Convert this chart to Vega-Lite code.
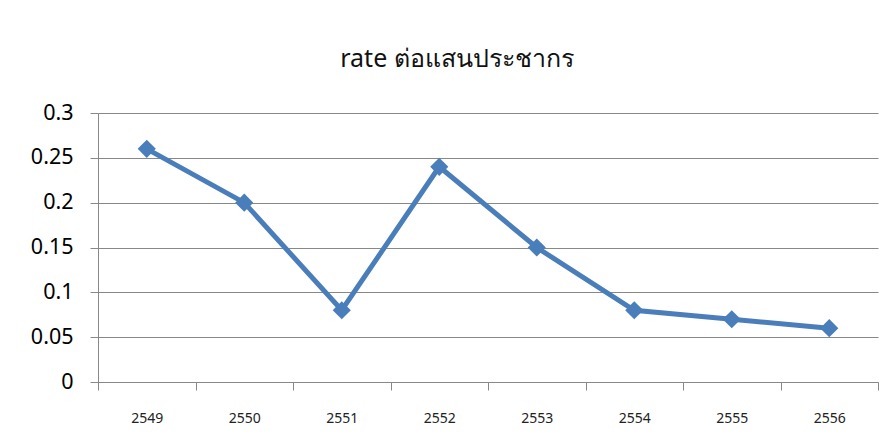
{
  "$schema": "https://vega.github.io/schema/vega-lite/v6.json",
  "autosize": "none",
  "width": 780,
  "height": 269,
  "padding": {"left": 98, "top": 113, "right": 17, "bottom": 65},
  "background": "white",
  "config": {"view": {"stroke": null}, "font": "Noto Sans"},
  "title": {
    "text": "rate ต่อแสนประชากร",
    "fontSize": 25,
    "fontWeight": "normal",
    "color": "#111111",
    "anchor": "middle",
    "dx": -31,
    "offset": 30,
    "font": "Noto Sans"
  },
  "data": {
    "values": [
      {"year": "2549", "rate": 0.26},
      {"year": "2550", "rate": 0.20},
      {"year": "2551", "rate": 0.08},
      {"year": "2552", "rate": 0.24},
      {"year": "2553", "rate": 0.15},
      {"year": "2554", "rate": 0.08},
      {"year": "2555", "rate": 0.07},
      {"year": "2556", "rate": 0.06}
    ]
  },
  "encoding": {
    "x": {
      "field": "year",
      "type": "ordinal",
      "scale": {"paddingInner": 0, "paddingOuter": 0},
      "axis": {
        "title": null,
        "labelAngle": 0,
        "labelFontSize": 14,
        "labelColor": "#222222",
        "labelPadding": 21,
        "tickBand": "extent",
        "tickSize": 8,
        "tickColor": "#888888",
        "domainColor": "#888888",
        "grid": false
      }
    },
    "y": {
      "field": "rate",
      "type": "quantitative",
      "scale": {"domain": [0, 0.3], "nice": false},
      "axis": {
        "title": null,
        "values": [0, 0.05, 0.1, 0.15, 0.2, 0.25, 0.3],
        "format": "~g",
        "labelFontSize": 21.5,
        "labelColor": "#000000",
        "labelPadding": 17,
        "tickSize": 8,
        "tickColor": "#888888",
        "domainColor": "#888888",
        "gridColor": "#888888",
        "labelFlush": false
      }
    }
  },
  "layer": [
    {"mark": {"type": "line", "color": "#4a7ebb", "strokeWidth": 5}},
    {"mark": {"type": "point", "shape": "diamond", "filled": true, "color": "#4a7ebb", "size": 330, "opacity": 1}}
  ]
}
